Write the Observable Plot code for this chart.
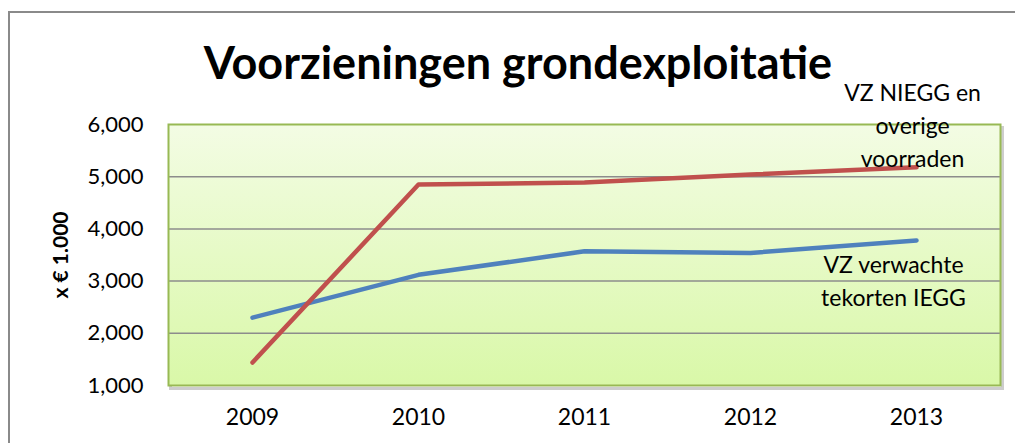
<!DOCTYPE html>
<html>
<head>
<meta charset="utf-8">
<script src="https://cdn.jsdelivr.net/npm/d3@7"></script>
<script src="https://cdn.jsdelivr.net/npm/@observablehq/plot@0.6"></script>
<style>
  html, body { margin: 0; padding: 0; background: #fff; overflow: hidden; }
  #wrap { position: relative; width: 1015px; height: 443px; overflow: hidden; font-family: Lato, "Open Sans", sans-serif; }
  #border { position: absolute; left: 8px; top: 11px; width: 1200px; height: 600px; border-left: 2px solid #8a8a8a; border-top: 2px solid #8a8a8a; }
  #title { position: absolute; left: 0; top: 40px; width: 1036px; text-align: center; font-weight: 700; font-size: 45px; color: #000; line-height: 1; }
  #chart { position: absolute; left: 0; top: 0; }
</style>
</head>
<body>
<div id="wrap">
  <div id="border"></div>
  <div id="chart"></div>
  <div id="title">Voorzieningen grondexploitatie</div>
</div>
<script>
const years = ["2009", "2010", "2011", "2012", "2013"];
const tekortenIEGG = [2300, 3120, 3570, 3540, 3780];
const nieggOverige = [1440, 4850, 4890, 5040, 5180];
const yTicks = [1000, 2000, 3000, 4000, 5000, 6000];
const labelNIEGG = "VZ NIEGG en\noverige\nvoorraden";
const labelIEGG = "VZ verwachte\ntekorten IEGG";
const yLabel = "x € 1.000";

const blueRows = years.map((y, i) => ({year: y, value: tekortenIEGG[i]}));
const redRows = years.map((y, i) => ({year: y, value: nieggOverige[i]}));

const gradientDefs = () => {
  const defs = d3.create("svg:defs");
  const g = defs.append("linearGradient").attr("id", "bg").attr("x1", 0).attr("y1", 0).attr("x2", 0).attr("y2", 1);
  g.append("stop").attr("offset", "0%").attr("stop-color", "#f3fce4");
  g.append("stop").attr("offset", "100%").attr("stop-color", "#d9f8a8");
  return defs.node();
};

const chart = Plot.plot({
  width: 1015,
  height: 443,
  marginTop: 124,
  marginLeft: 168,
  marginRight: 15,
  marginBottom: 58,
  style: {fontFamily: "Lato, 'Open Sans', sans-serif", fontSize: "22px", color: "#000", background: "transparent", overflow: "visible"},
  x: {type: "point", domain: years, padding: 0.5},
  y: {domain: [1000, 6000]},
  marks: [
    gradientDefs,
    Plot.frame({stroke: "#b8b8b8", strokeWidth: 3, dx: 2, dy: 3, strokeOpacity: 0.7}),
    Plot.frame({fill: "url(#bg)"}),
    Plot.ruleY(yTicks.slice(1, -1), {stroke: "#8c8c8c", strokeWidth: 1.5}),
    Plot.frame({stroke: "#98b954", strokeWidth: 2}),
    Plot.axisY({ticks: yTicks, tickSize: 0, tickPadding: 25, tickFormat: d3.format(","), label: null, fontSize: 22}),
    Plot.axisX({tickSize: 0, tickPadding: 23, label: null, fontSize: 23}),
    Plot.text([yLabel], {frameAnchor: "left", textAnchor: "middle", text: d => d, rotate: -90, dx: -107, fontWeight: "bold", fontSize: 21}),
    Plot.line(blueRows, {x: "year", y: "value", stroke: "#4f81bd", strokeWidth: 4.5, strokeLinecap: "round", strokeLinejoin: "round"}),
    Plot.line(redRows, {x: "year", y: "value", stroke: "#c0504d", strokeWidth: 4.5, strokeLinecap: "round", strokeLinejoin: "round"}),
    Plot.text(redRows.slice(-1), {x: "year", y: "value", text: () => labelNIEGG, lineAnchor: "bottom", lineHeight: 1.45, dx: -4, dy: 0, fontSize: 23, fill: "#000"}),
    Plot.text(blueRows.slice(-1), {x: "year", y: "value", text: () => labelIEGG, lineAnchor: "top", lineHeight: 1.45, dx: -23, dy: 9, fontSize: 23, fill: "#000"})
  ]
});
document.getElementById("chart").appendChild(chart);
</script>
</body>
</html>
